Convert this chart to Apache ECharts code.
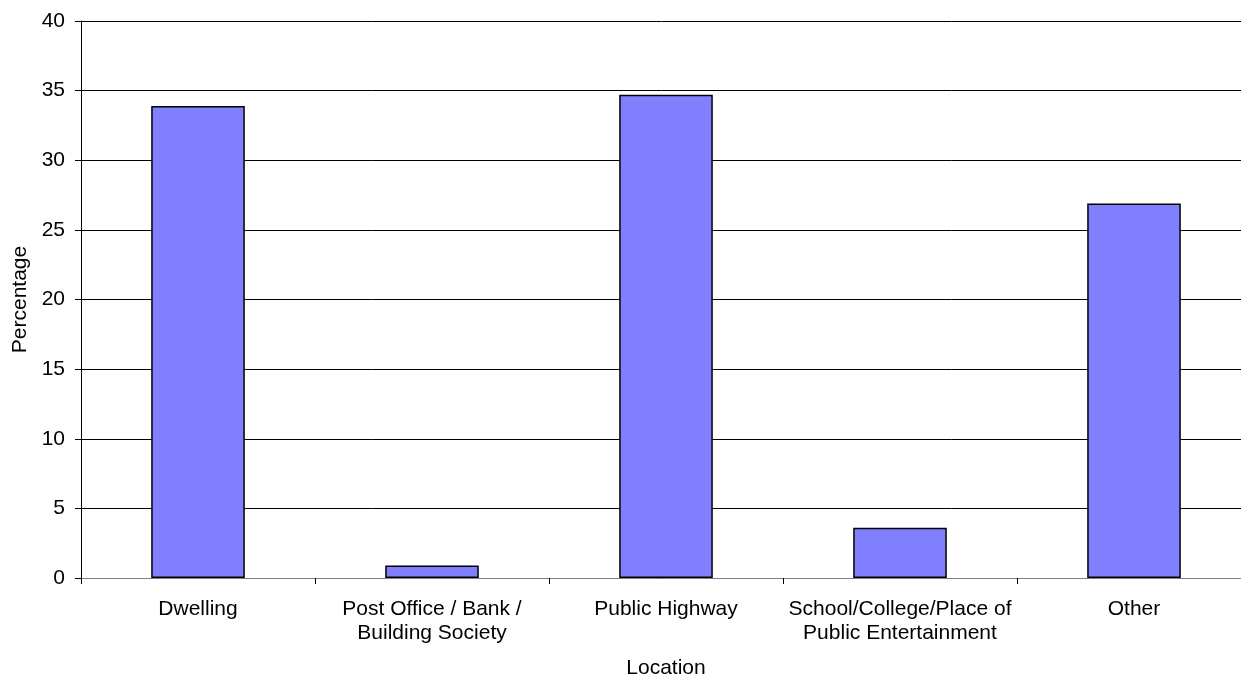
<!DOCTYPE html>
<html>
<head>
<meta charset="utf-8">
<script src="https://cdn.jsdelivr.net/npm/echarts@6/dist/echarts.min.js"></script>
<style>
html,body{margin:0;padding:0;background:#fff;}
#chart{width:1241px;height:679px;}
</style>
</head>
<body>
<div id="chart"></div>
<script>
const categories = ["Dwelling", "Post Office / Bank /\nBuilding Society", "Public Highway", "School/College/Place of\nPublic Entertainment", "Other"];
const values = [33.9, 0.9, 34.7, 3.6, 26.9];
const yTicks = { min: 0, max: 40, interval: 5 };
const xTitle = "Location";
const yTitle = "Percentage";

const chart = echarts.init(document.getElementById('chart'), null, { renderer: 'canvas' });
const font = 'Liberation Sans, Arial, sans-serif';
const fs = 21;
chart.setOption({
  animation: false,
  backgroundColor: '#ffffff',
  grid: { left: 81, top: 21, width: 1170, height: 557, containLabel: false, outerBoundsMode: 'none' },
  xAxis: {
    type: 'category',
    data: categories,
    name: xTitle,
    nameLocation: 'middle',
    nameGap: 80,
    nameTextStyle: { fontFamily: font, fontSize: fs, color: '#000' },
    axisLine: { lineStyle: { color: '#808080', width: 1 } },
    axisTick: { show: true, length: 6, alignWithLabel: false, lineStyle: { color: '#000' } },
    axisLabel: { fontFamily: font, fontSize: fs, color: '#000', margin: 19, lineHeight: 24, interval: 0 }
  },
  yAxis: {
    type: 'value',
    min: yTicks.min,
    max: yTicks.max,
    interval: yTicks.interval,
    name: yTitle,
    nameLocation: 'middle',
    nameGap: 50,
    nameRotate: 90,
    nameTextStyle: { fontFamily: font, fontSize: fs, color: '#000' },
    axisLine: { show: true, lineStyle: { color: '#000', width: 1 } },
    axisTick: { show: true, length: 6, lineStyle: { color: '#000' } },
    axisLabel: { fontFamily: font, fontSize: fs, color: '#000', margin: 16 },
    splitLine: { show: true, lineStyle: { color: '#000', width: 1 } }
  },
  series: [{
    type: 'bar',
    data: values,
    barWidth: '40%',
    itemStyle: { color: '#8080FF', borderColor: '#000', borderWidth: 1.5 }
  }]
});
</script>
</body>
</html>
